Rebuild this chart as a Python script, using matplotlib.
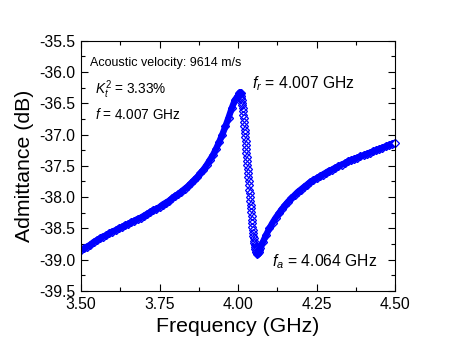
import numpy as np
import matplotlib
matplotlib.use("Agg")
import matplotlib.pyplot as plt
from matplotlib.ticker import MultipleLocator

plt.rcParams['font.family'] = ['Liberation Sans', 'DejaVu Sans']
plt.rcParams['mathtext.fontset'] = 'custom'
plt.rcParams['mathtext.rm'] = 'Liberation Sans'
plt.rcParams['mathtext.it'] = 'Liberation Sans:italic'

# Frequency (GHz) - coarse below resonance
freq_low = [3.50, 3.51, 3.52, 3.53, 3.54, 3.55, 3.56, 3.57, 3.58, 3.59,
            3.60, 3.61, 3.62, 3.63, 3.64, 3.65, 3.66, 3.67, 3.68, 3.69,
            3.70, 3.71, 3.72, 3.73, 3.74, 3.75, 3.76, 3.77, 3.78, 3.79,
            3.80, 3.81, 3.82, 3.83, 3.84, 3.85, 3.86, 3.87, 3.88, 3.89,
            3.90, 3.91, 3.92, 3.93, 3.94, 3.95, 3.96, 3.97, 3.98, 3.99,
            4.000, 4.002, 4.004, 4.006, 4.008, 4.010]
adm_low = [-38.85, -38.82, -38.79, -38.76, -38.72, -38.69, -38.66, -38.63, -38.61, -38.58,
           -38.55, -38.53, -38.50, -38.48, -38.45, -38.43, -38.40, -38.38, -38.35, -38.33,
           -38.30, -38.27, -38.24, -38.21, -38.19, -38.16, -38.12, -38.09, -38.06, -38.02,
           -37.98, -37.95, -37.91, -37.87, -37.83, -37.78, -37.73, -37.68, -37.62, -37.56,
           -37.49, -37.41, -37.33, -37.23, -37.12, -37.00, -36.87, -36.73, -36.58, -36.45,
           -36.38, -36.36, -36.34, -36.33, -36.34, -36.38]

# resonance -> anti-resonance (fine steps)
freq_mid = [4.011, 4.012, 4.013, 4.014, 4.015, 4.016, 4.017, 4.018, 4.019,
            4.020, 4.021, 4.022, 4.023, 4.024, 4.025, 4.026, 4.027, 4.028, 4.029,
            4.030, 4.031, 4.032, 4.033, 4.034, 4.035, 4.036, 4.037, 4.038, 4.039,
            4.040, 4.041, 4.042, 4.043, 4.044, 4.045, 4.046, 4.047, 4.048, 4.049,
            4.050, 4.051, 4.052, 4.053, 4.054, 4.055, 4.056]
adm_mid = [-36.41, -36.45, -36.49, -36.53, -36.58, -36.63, -36.68, -36.74, -36.80,
           -36.86, -36.92, -36.98, -37.04, -37.10, -37.16, -37.23, -37.29, -37.36, -37.42,
           -37.49, -37.55, -37.62, -37.68, -37.75, -37.81, -37.88, -37.94, -38.00, -38.06,
           -38.12, -38.18, -38.24, -38.30, -38.36, -38.41, -38.47, -38.52, -38.57, -38.62,
           -38.66, -38.70, -38.74, -38.77, -38.80, -38.83, -38.85]

# above anti-resonance
freq_high = [4.058, 4.060, 4.062, 4.064, 4.066, 4.068, 4.070,
             4.08, 4.09, 4.10, 4.11, 4.12, 4.13, 4.14, 4.15, 4.16, 4.17,
             4.18, 4.19, 4.20, 4.21, 4.22, 4.23, 4.24, 4.25, 4.26, 4.27,
             4.28, 4.29, 4.30, 4.31, 4.32, 4.33, 4.34, 4.35, 4.36, 4.37,
             4.38, 4.39, 4.40, 4.41, 4.42, 4.43, 4.44, 4.45, 4.46, 4.47,
             4.48, 4.49, 4.50]
adm_high = [-38.88, -38.90, -38.91, -38.90, -38.88, -38.85, -38.82,
            -38.71, -38.60, -38.50, -38.41, -38.33, -38.26, -38.19, -38.13, -38.07, -38.02,
            -37.97, -37.92, -37.88, -37.84, -37.80, -37.76, -37.73, -37.70, -37.67, -37.64,
            -37.61, -37.58, -37.56, -37.53, -37.51, -37.48, -37.46, -37.43, -37.41, -37.39,
            -37.37, -37.35, -37.33, -37.31, -37.29, -37.27, -37.25, -37.23, -37.21, -37.19,
            -37.17, -37.15, -37.13]

blue = '#0000ff'
fig = plt.figure(figsize=(4.56, 3.49), dpi=100)
ax = fig.add_axes([81/456, 1 - 291/349, 314/456, 250.3/349])

# dense, overlapping markers read as a solid band in the smooth parts
for f, a in [(freq_low, adm_low), (freq_high, adm_high)]:
    ax.plot(f, a, color=blue, linewidth=4.6, solid_capstyle='butt', solid_joinstyle='round')
    ax.plot(f, a, linestyle='none', marker='D', markersize=4.1,
            markerfacecolor='none', markeredgecolor=blue, markeredgewidth=1.0)
ax.plot(freq_mid, adm_mid, linestyle='none', marker='D', markersize=4.0,
        markerfacecolor='none', markeredgecolor=blue, markeredgewidth=0.9)
# last point drawn over the frame, as in the source
ax.plot(freq_high[-1:], adm_high[-1:], linestyle='none', marker='D', markersize=4.0,
        markerfacecolor='white', markeredgecolor=blue, markeredgewidth=0.9, clip_on=False)

ax.set_xlim(3.5, 4.5)
ax.set_ylim(-39.5, -35.5)
ax.xaxis.set_major_locator(MultipleLocator(0.25))
ax.xaxis.set_minor_locator(MultipleLocator(0.125))
ax.yaxis.set_major_locator(MultipleLocator(0.5))
ax.yaxis.set_minor_locator(MultipleLocator(0.25))
ax.xaxis.set_major_formatter(plt.FormatStrFormatter('%.2f'))
ax.yaxis.set_major_formatter(plt.FormatStrFormatter('%.1f'))
ax.tick_params(which='both', direction='in', top=True, right=True, width=0.8,
               labelsize=11.3, color='black')
ax.tick_params(axis='x', pad=4)
ax.tick_params(axis='y', pad=4)
ax.tick_params(which='major', length=5)
ax.tick_params(which='minor', length=3)
for s in ax.spines.values():
    s.set_linewidth(0.8)

ax.set_xlabel('Frequency (GHz)', fontsize=15.3, labelpad=4)
ax.set_ylabel('Admittance (dB)', fontsize=15.3, labelpad=4)

ax.text(0.028, 0.899, 'Acoustic velocity: 9614 m/s', transform=ax.transAxes,
        fontsize=9.0, va='baseline', ha='left')
ax.text(0.044, 0.786, r'$K_t^2$ = 3.33%', transform=ax.transAxes,
        fontsize=9.8, va='baseline', ha='left')
ax.text(0.044, 0.686, r'$f$ = 4.007 GHz', transform=ax.transAxes,
        fontsize=9.8, va='baseline', ha='left')
ax.text(0.544, 0.810, r'$f_r$ = 4.007 GHz', transform=ax.transAxes,
        fontsize=11.3, va='baseline', ha='left')
ax.text(0.608, 0.098, r'$f_a$ = 4.064 GHz', transform=ax.transAxes,
        fontsize=11.3, va='baseline', ha='left')

fig.savefig('out.png', dpi=100)
